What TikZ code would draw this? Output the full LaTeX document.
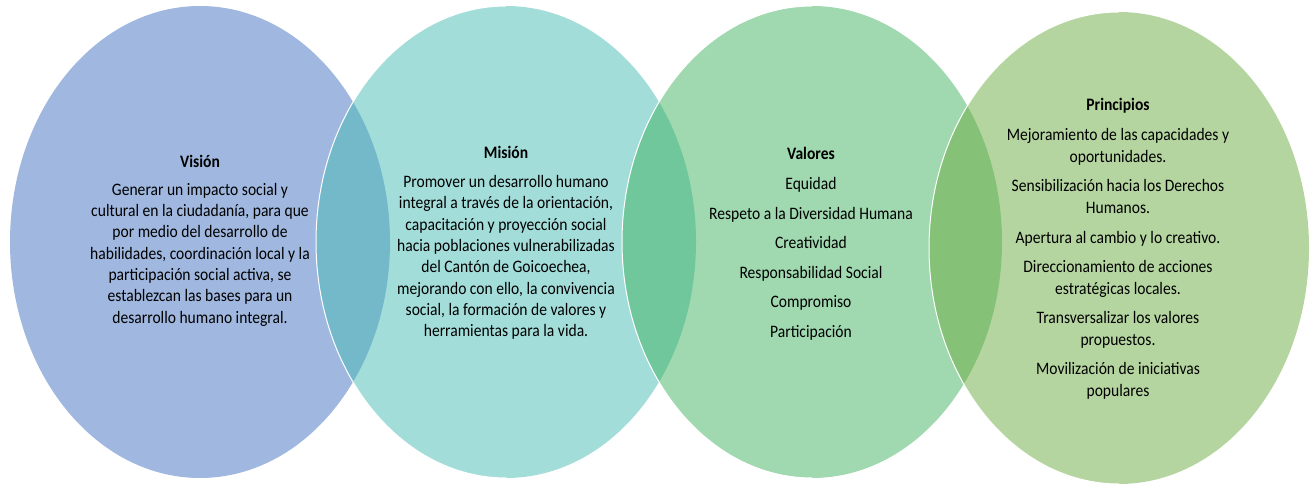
\documentclass[tikz,border=0pt]{standalone}
\usepackage{fontspec}
\setmainfont{Carlito}[FakeStretch=0.89]
\usetikzlibrary{shapes.geometric}

\definecolor{visfill}{RGB}{65,113,193}
\definecolor{misfill}{RGB}{71,187,179}
\definecolor{valfill}{RGB}{65,177,97}
\definecolor{prifill}{RGB}{107,171,65}

\tikzset{
  bubble/.style={ellipse, minimum width=380pt, minimum height=472pt, inner sep=0pt, outer sep=0pt, fill opacity=.5},
  rim/.style={draw=white, line width=1pt},
  blurb/.style={align=center, inner sep=0pt, text=black, font=\fontsize{17.5}{21.3}\selectfont}
}

\begin{document}
\begin{tikzpicture}[x=1pt,y=1pt]
\useasboundingbox (0,0) rectangle (1316,484);

\node[bubble, fill=visfill] (vis) at (200,242) {};
\node[bubble, fill=misfill] (mis) at (506,242) {};
\node[bubble, fill=valfill] (val) at (812,242) {};
\node[bubble, fill=prifill] (pri) at (1119,236) {};

%% white edge where each bubble lies on the one before
\foreach \e in {mis,val,pri}
  \draw[rim] (\e.north) arc[start angle=90, end angle=270, x radius=190pt, y radius=236pt];

\node[blurb] (vistxt) at (200,243.5) {\textbf{Visión}\\[6.7pt]
  Generar un impacto social y\\ cultural en la ciudadanía, para que\\
  por medio del desarrollo de\\ habilidades, coordinación local y la\\
  participación social activa, se\\ establezcan las bases para un\\
  desarrollo humano integral.};
\node[blurb] (mistxt) at (506,241) {\textbf{Misión}\\[7.6pt]
  Promover un desarrollo humano\\ integral a través de la orientación,\\
  capacitación y proyección social\\ hacia poblaciones vulnerabilizadas\\
  del Cantón de Goicoechea,\\ mejorando con ello, la convivencia\\
  social, la formación de valores y\\ herramientas para la vida.};
\node[blurb] (valtxt) at (811,240) {\textbf{Valores}\\[8.3pt]
  Equidad\\[8.3pt] Respeto a la Diversidad Humana\\[8.3pt]
  Creatividad\\[8.3pt] Responsabilidad Social\\[8.3pt]
  Compromiso\\[8.3pt] Participación};
\node[blurb, font=\fontsize{17.5}{22}\selectfont] (pritxt) at (1118,235) {\textbf{Principios}\\[8pt]
  Mejoramiento de las capacidades y\\ oportunidades.\\[7.3pt]
  Sensibilización hacia los Derechos\\ Humanos.\\[7.3pt]
  Apertura al cambio y lo creativo.\\[7.3pt]
  Direccionamiento de acciones\\ estratégicas locales.\\[7.3pt]
  Transversalizar los valores\\ propuestos.\\[7.3pt]
  Movilización de iniciativas\\ populares};
\end{tikzpicture}
\end{document}
